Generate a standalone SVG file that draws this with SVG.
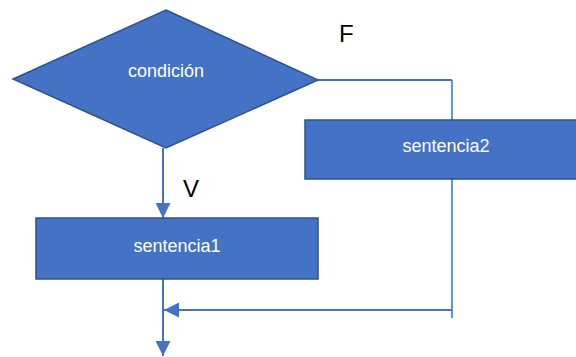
<svg xmlns="http://www.w3.org/2000/svg" width="576" height="357" viewBox="0 0 576 357">
  <defs>
    <style>
      .shape { fill: #4472C4; stroke: #2F528F; stroke-width: 1.5; }
      .label { fill: #FFFFFF; font-family: "Liberation Sans", Arial, sans-serif; font-size: 18px; text-anchor: middle; }
      .tag { fill: #000000; font-family: "Liberation Sans", Arial, sans-serif; font-size: 24px; }
      .flow { fill: none; stroke: #4472C4; stroke-width: 2; }
      .side { fill: none; stroke: #5B9BD5; stroke-width: 2; }
    </style>
    <marker id="arrow" viewBox="0 0 10 10" refX="10" refY="5" markerWidth="7.5" markerHeight="7.5" markerUnits="strokeWidth" orient="auto">
      <path d="M0,0 L10,5 L0,10 Z" fill="#4472C4"/>
    </marker>
  </defs>

  <!-- connectors -->
  <g id="connectors">
    <!-- false branch: right vertex across and down behind sentencia2 -->
    <path class="side" d="M452,80 L452,318"/>
    <path class="flow" d="M318,80 L452,80"/>
    <!-- true branch -->
    <path class="flow" d="M163,148 L163,218" marker-end="url(#arrow)"/>
    <!-- merge back -->
    <path class="flow" d="M452,310 L164,310" marker-end="url(#arrow)"/>
    <path class="flow" d="M163,279 L163,356" marker-end="url(#arrow)"/>
  </g>

  <g id="condicion">
    <polygon class="shape" points="166,10 318,80 166,148 13,79"/>
    <text class="label" x="166" y="77">condición</text>
  </g>

  <g id="sentencia2">
    <rect class="shape" x="305" y="120" width="282" height="59"/>
    <text class="label" x="446" y="152">sentencia2</text>
  </g>

  <g id="sentencia1">
    <rect class="shape" x="36" y="218" width="282" height="61"/>
    <text class="label" x="177" y="252">sentencia1</text>
  </g>

  <g id="tags">
    <text class="tag" x="339" y="42">F</text>
    <text class="tag" x="183" y="197">V</text>
  </g>
</svg>
